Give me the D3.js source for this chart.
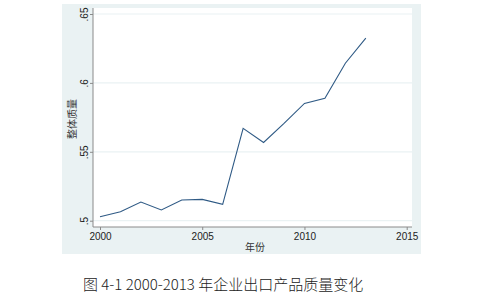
<!DOCTYPE html>
<html>
<head>
<meta charset="utf-8">
<script src="https://cdn.jsdelivr.net/npm/d3@7"></script>
<style>
  body { margin: 0; background: #fff; }
  svg text { font-family: Arial, "Liberation Sans", sans-serif; }
</style>
</head>
<body>
<svg id="viz" width="488" height="298"></svg>
<script>
// years and the overall quality index
var years = [2000, 2001, 2002, 2003, 2004, 2005, 2006, 2007, 2008, 2009, 2010, 2011, 2012, 2013];
var quality = [0.5029, 0.5065, 0.5135, 0.5078, 0.515, 0.5155, 0.5119, 0.567, 0.5568, 0.5706, 0.5851, 0.5889, 0.6143, 0.6325];
var xTicks = [2000, 2005, 2010, 2015];
var yTicks = [0.5, 0.55, 0.6, 0.65];
var yTickLabels = [".5", ".55", ".6", ".65"];

var svg = d3.select("#viz");

// stata-like outer panel
svg.append("rect")
    .attr("x", 62).attr("y", 4)
    .attr("width", 359).attr("height", 250)
    .style("fill", "#eaf2f3");

var plot = { left: 93, right: 412, top: 8, bottom: 227 };

svg.append("rect")
    .attr("x", plot.left).attr("y", plot.top)
    .attr("width", plot.right - plot.left).attr("height", plot.bottom - plot.top)
    .style("fill", "#fff");

var x = d3.scaleLinear().domain([2000, 2015]).range([100, 406.7]);
var y = d3.scaleLinear().domain([0.5, 0.65]).range([220.7, 14]);

// grid lines
svg.selectAll("line.grid").data(yTicks).enter()
    .append("line")
    .attr("class", "grid")
    .attr("x1", plot.left).attr("x2", plot.right)
    .attr("y1", function (d) { return y(d); })
    .attr("y2", function (d) { return y(d); })
    .style("stroke", "#eaf2f3")
    .style("stroke-width", 1.2);

// y axis
var yAxis = d3.axisLeft(y)
    .tickValues(yTicks)
    .tickSize(3)
    .tickFormat(function (d, i) { return yTickLabels[i]; });

var gy = svg.append("g")
    .attr("transform", "translate(" + plot.left + ",0)")
    .call(yAxis);
gy.select(".domain").attr("d", "M0," + plot.top + "V" + plot.bottom);
// labels are turned on their side like in stata
gy.selectAll("text")
    .attr("transform", "translate(-5,0) rotate(-90)")
    .attr("x", 0).attr("y", 0).attr("dy", 0)
    .style("text-anchor", "middle")
    .style("font-size", "10px")
    .style("fill", "#222");

// x axis
var xAxis = d3.axisBottom(x)
    .tickValues(xTicks)
    .tickSize(3)
    .tickFormat(d3.format("d"));

var gx = svg.append("g")
    .attr("transform", "translate(0," + plot.bottom + ")")
    .call(xAxis);
gx.select(".domain").attr("d", "M" + plot.left + ",0H" + plot.right);
gx.selectAll("text")
    .attr("y", 6)
    .style("font-size", "10px")
    .style("fill", "#222");

svg.selectAll(".domain, .tick line")
    .style("stroke", "#8a8a8a");

// the series
var line = d3.line()
    .x(function (d, i) { return x(years[i]); })
    .y(function (d) { return y(d); });

svg.append("path")
    .datum(quality)
    .attr("d", line)
    .style("fill", "none")
    .style("stroke", "#2f5a85")
    .style("stroke-width", 1.1);

// axis titles
svg.append("text")
    .attr("transform", "translate(76,119) rotate(-90)")
    .style("text-anchor", "middle")
    .style("font-family", "'Noto Sans CJK SC', sans-serif")
    .style("font-size", "10px")
    .style("fill", "#333")
    .text("整体质量");

svg.append("text")
    .attr("x", 255).attr("y", 251)
    .style("text-anchor", "middle")
    .style("font-family", "'Noto Sans CJK SC', sans-serif")
    .style("font-size", "10px")
    .style("fill", "#333")
    .text("年份");

// caption
svg.append("text")
    .attr("x", 83).attr("y", 290)
    .style("font-family", "'Noto Sans CJK SC', sans-serif")
    .style("font-size", "15px")
    .style("font-weight", 300)
    .style("fill", "#222")
    .text("图 4-1 2000-2013 年企业出口产品质量变化");
</script>
</body>
</html>
